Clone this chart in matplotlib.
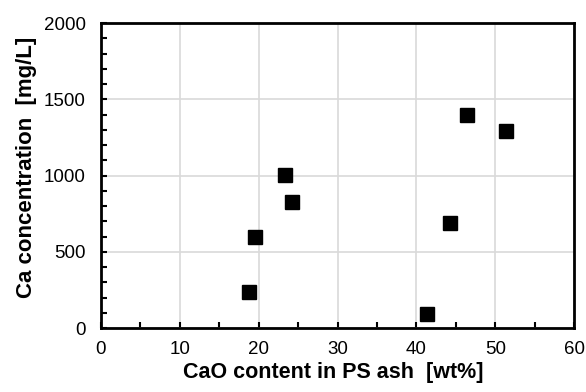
import matplotlib.pyplot as plt
from matplotlib.ticker import MultipleLocator

plt.rcParams["font.family"] = ["Liberation Sans", "DejaVu Sans"]

# CaO content in PS ash [wt%] vs Ca concentration [mg/L]
cao_content = [18.8, 19.5, 23.3, 24.2, 41.4, 44.3, 46.4, 51.3]
ca_conc = [240, 595, 1005, 830, 92, 686, 1400, 1290]

fig = plt.figure(figsize=(5.86, 3.92), dpi=100)
ax = fig.add_axes([0.172, 0.163, 0.808, 0.778])

ax.plot(cao_content, ca_conc, linestyle="none", marker="s",
        markersize=10.5, color="black", zorder=3)

ax.set_xlim(0, 60)
ax.set_ylim(0, 2000)
ax.xaxis.set_major_locator(MultipleLocator(10))
ax.xaxis.set_minor_locator(MultipleLocator(5))
ax.yaxis.set_major_locator(MultipleLocator(500))
ax.yaxis.set_minor_locator(MultipleLocator(100))

ax.grid(True, which="major", color="#d9d9d9", linewidth=1.2, zorder=0)
ax.set_axisbelow(True)

for side in ["left", "bottom", "top", "right"]:
    ax.spines[side].set_linewidth(2)
    ax.spines[side].set_color("black")

ax.tick_params(which="both", direction="in", width=1.5, labelsize=13.5,
               colors="black")
ax.tick_params(axis="x", which="major", length=4, pad=9)
ax.tick_params(axis="y", which="major", length=4, pad=11)
ax.tick_params(which="minor", length=4)

ax.set_xlabel("CaO content in PS ash  [wt%]", fontsize=15.5, fontweight="bold")
ax.set_ylabel("Ca concentration  [mg/L]", fontsize=16, fontweight="bold")
ax.xaxis.set_label_coords(0.49, -0.11)
ax.yaxis.set_label_coords(-0.135, 0.528)

fig.savefig("out.png", dpi=100)
